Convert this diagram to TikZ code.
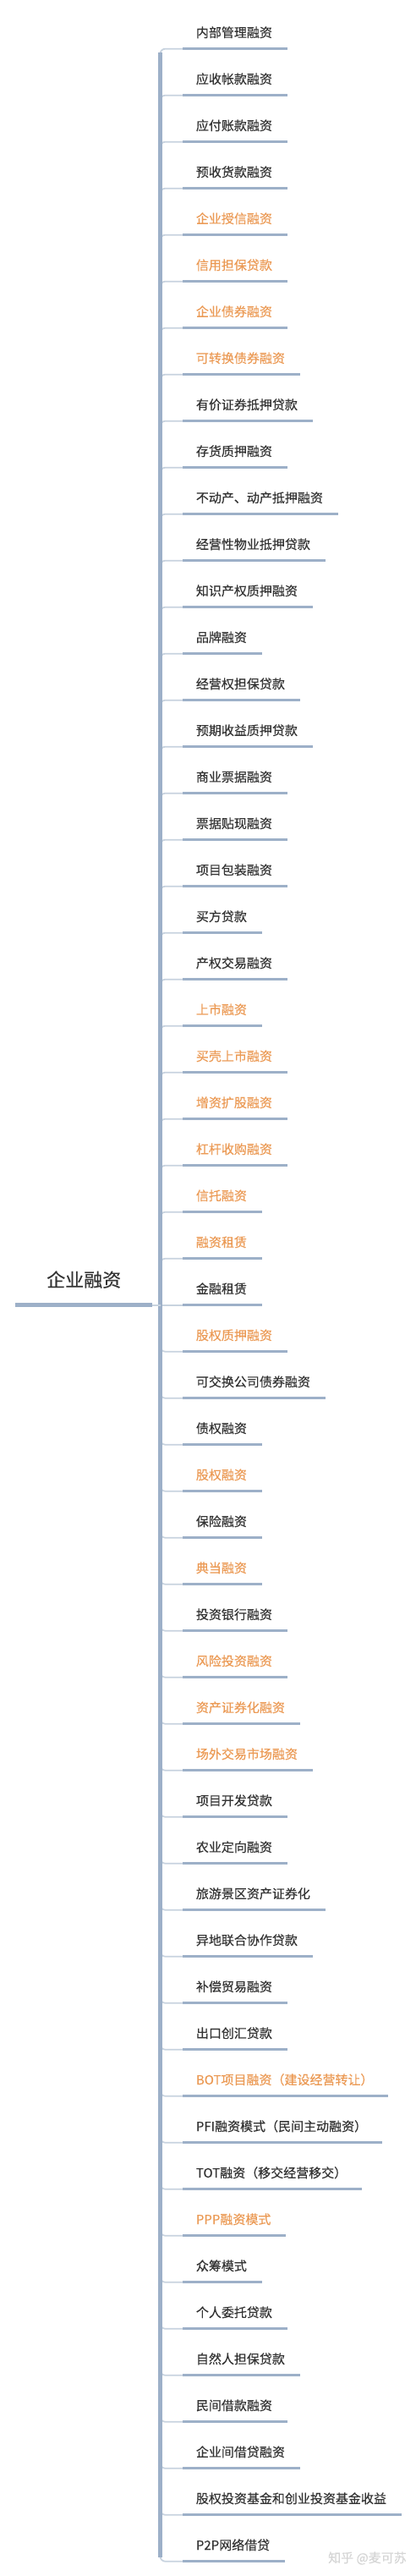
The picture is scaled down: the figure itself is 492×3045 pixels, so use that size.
\documentclass[tikz,border=0pt]{standalone}
\usepackage{fontspec}
\setmainfont{Noto Sans CJK SC}[FakeBold=0.35]
\usetikzlibrary{calc}
\definecolor{linec}{HTML}{9DB0C8}
\definecolor{thinc}{HTML}{C8D3DF}
\definecolor{orangec}{HTML}{EB9A55}
\definecolor{textc}{HTML}{333333}
\definecolor{wmc}{HTML}{D5D5D5}
\begin{document}
\begin{tikzpicture}[x=1pt,y=-1pt,
  childtext/.style={anchor=base west, inner sep=0pt, font=\fontsize{15}{18}\selectfont},
  underline/.style={draw=linec, line width=3.4pt},
  rootline/.style={draw=linec, line width=4.6pt},
  trunk/.style={draw=linec, line width=5.5pt},
  branch/.style={draw=thinc, line width=1.8pt, rounded corners=6pt},
  roottext/.style={anchor=base west, inner sep=0pt, font=\fontsize{22}{26}\selectfont, text=textc},
  wmtext/.style={anchor=base west, inner sep=0pt, font=\fontsize{15}{18}\selectfont, text=wmc}
]
\useasboundingbox (0,0) rectangle (492,3045);
\foreach \t/\c [count=\i] in {
内部管理融资/textc,
应收帐款融资/textc,
应付账款融资/textc,
预收货款融资/textc,
企业授信融资/orangec,
信用担保贷款/orangec,
企业债券融资/orangec,
可转换债券融资/orangec,
有价证券抵押贷款/textc,
存货质押融资/textc,
不动产、动产抵押融资/textc,
经营性物业抵押贷款/textc,
知识产权质押融资/textc,
品牌融资/textc,
经营权担保贷款/textc,
预期收益质押贷款/textc,
商业票据融资/textc,
票据贴现融资/textc,
项目包装融资/textc,
买方贷款/textc,
产权交易融资/textc,
上市融资/orangec,
买壳上市融资/orangec,
增资扩股融资/orangec,
杠杆收购融资/orangec,
信托融资/orangec,
融资租赁/orangec,
金融租赁/textc,
股权质押融资/orangec,
可交换公司债券融资/textc,
债权融资/textc,
股权融资/orangec,
保险融资/textc,
典当融资/orangec,
投资银行融资/textc,
风险投资融资/orangec,
资产证券化融资/orangec,
场外交易市场融资/orangec,
项目开发贷款/textc,
农业定向融资/textc,
旅游景区资产证券化/textc,
异地联合协作贷款/textc,
补偿贸易融资/textc,
出口创汇贷款/textc,
BOT项目融资（建设经营转让）/orangec,
PFI融资模式（民间主动融资）/textc,
TOT融资（移交经营移交）/textc,
PPP融资模式/orangec,
众筹模式/textc,
个人委托贷款/textc,
自然人担保贷款/textc,
民间借款融资/textc,
企业间借贷融资/textc,
股权投资基金和创业投资基金收益/textc,
P2P网络借贷/textc}{
  \pgfmathsetmacro\yy{57.7+(\i-1)*55}
  \coordinate (u\i) at (216,\yy);
  \node[childtext, text=\c] (n\i) at (231.7,\yy-13.7) {\t};
  \draw[underline] (u\i) -- ($(u\i -| n\i.east)+(17.5,0)$);
  \ifnum\i<28
    \coordinate (s\i) at (189.5,\yy+9);
    \draw[branch] (s\i) -- (189.5,\yy) -- (u\i);
  \else
    \ifnum\i=28
      \coordinate (s\i) at (189.5,\yy);
      \draw[branch] (s\i) -- (u\i);
    \else
      \coordinate (s\i) at (189.5,\yy-9);
      \draw[branch] (s\i) -- (189.5,\yy) -- (u\i);
    \fi
  \fi
}
\coordinate (ttop) at (189.5,62);
\coordinate (tbot) at (189.5,3023);
\draw[trunk] (ttop) -- (tbot);
\node[roottext] (root) at (55,1521) {企业融资};
\coordinate (rootL) at (18.3,1542.7);
\coordinate (rootR) at (180,1542.7);
\draw[rootline] (rootL) -- (rootR);
\draw[branch] (rootR) -- (s28);
\node[wmtext] (wm) at (388,3029) {知乎 @麦可苏};
\end{tikzpicture}
\end{document}
